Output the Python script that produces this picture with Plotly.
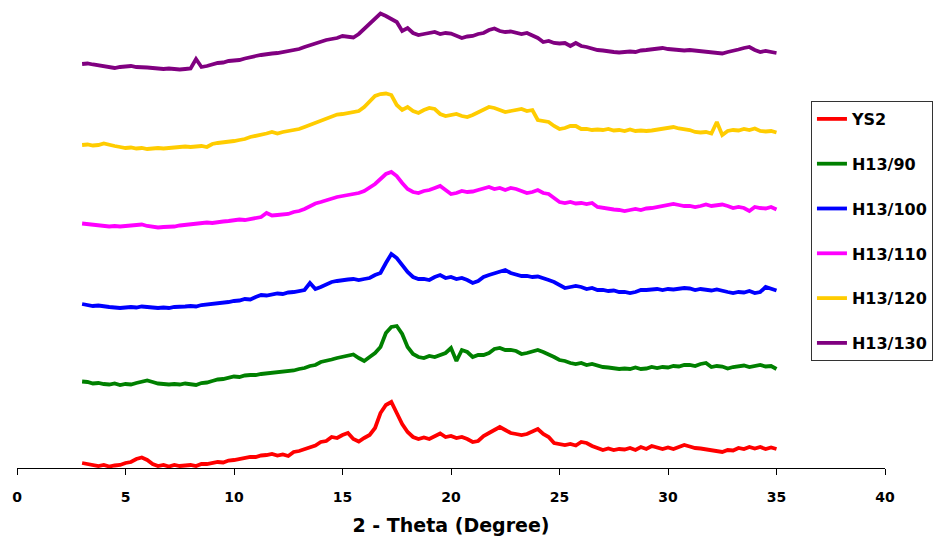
import numpy as np
import plotly.graph_objects as go

# 2-theta scan: 3 to 35 degrees, 0.25 degree step
two_theta = np.round(np.arange(3.0, 35.0001, 0.25), 2)

# Stacking offsets for the patterns (arbitrary intensity units)
offsets = [0, 80, 155, 235, 315, 395]

names = ["YS2", "H13/90", "H13/100", "H13/110", "H13/120", "H13/130"]
colors = ["#FF0000", "#008000", "#0000FF", "#FF00FF", "#FFCC00", "#800080"]

# Intensities (a.u.), one row per 2 degrees
ys2 = [
    5, 4, 3, 2, 3, 1.5, 2.5, 3,
    5, 6, 9, 10.5, 8, 4, 2, 3,
    1.5, 3, 2, 2.5, 3, 2, 4, 4,
    5, 6, 5.5, 7.5, 8, 9, 9.5, 11,
    11, 12.5, 13, 14, 12.5, 13.5, 12, 16,
    17, 19, 21, 22.5, 26, 27, 31, 30,
    33, 35, 29, 26.5, 30, 33, 40, 55,
    63, 66, 55, 44, 36, 31, 29, 30.5,
    29, 32, 34.5, 31, 32, 30, 31, 29,
    26, 27, 32, 35, 38, 41, 38, 35,
    34, 33, 34, 37, 39, 34, 31, 25,
    24, 23, 24, 22.5, 26, 25, 22, 20,
    18, 19.5, 18, 19, 18.5, 20, 18, 21,
    19, 22, 20, 19, 20.5, 19, 21, 23,
    21.5, 20, 19.5, 18.5, 17.5, 17, 16, 18,
    17.5, 20, 19, 21, 19.5, 21, 19, 20.5,
    19,
]

h13_90 = [
    6.5, 6, 4.5, 5, 4, 3.5, 4.5, 3,
    4, 3.5, 5, 6, 7.5, 6, 4.5, 4,
    3.5, 4, 3.5, 4.5, 4, 3, 5, 5.5,
    7, 8.5, 9, 10, 11.5, 11, 12.5, 13,
    13, 14, 14.5, 15.5, 15.5, 16.5, 17, 17.5,
    19, 20, 22, 23, 26, 27, 28.5, 30,
    31, 32, 33.5, 30, 27, 31, 35, 41,
    55, 61, 62, 54, 41, 34, 31, 30,
    32, 31, 33, 35, 40, 27, 38, 36,
    31, 33, 33, 35, 39, 40, 38, 38,
    37, 34, 35, 37, 38, 36, 34, 31,
    28, 27, 25, 24, 25, 23, 24, 22,
    21, 20.5, 20, 19, 19.5, 19, 20.5, 19,
    19.5, 21, 20, 21, 20.5, 22, 21.5, 23,
    23, 22, 24, 25, 21, 22, 21.5, 19.5,
    21, 21.5, 22.5, 21, 22, 23, 21.5, 22,
    19,
]

h13_100 = [
    9, 8, 7, 7.5, 6.5, 6, 5.5, 5,
    5.5, 6, 5.5, 6.5, 6, 5.5, 5, 5.5,
    5, 6, 6, 6.5, 7, 6.5, 8, 8.5,
    9, 9.5, 10.5, 11, 12, 12.5, 14, 13.5,
    16, 18, 17.5, 18.5, 19.5, 19, 20.5, 21,
    22, 23, 30, 24, 26, 29, 31, 32,
    33, 33.5, 34, 33, 34, 35, 38, 40,
    50, 59, 55, 48, 41, 36, 34, 34,
    33, 36, 38, 35, 36, 34, 35, 33,
    30, 32, 36, 38, 40, 42, 43, 40,
    38, 37, 37, 36, 36.5, 35, 33, 31,
    28, 25, 26, 27, 26, 24, 25, 23,
    23, 22, 22.5, 21, 21, 20, 21, 23,
    23, 23.5, 24, 23, 24, 23.5, 24, 25,
    24.5, 23, 24, 23, 22.5, 23.5, 22, 21,
    20, 21, 20.5, 22, 20, 21, 26, 24,
    22.5,
]

h13_110 = [
    9.5, 9, 8, 7.5, 7, 6.5, 7, 6.5,
    7, 7.5, 8, 8.5, 7, 6, 5.5, 6,
    6, 6.5, 7.5, 8, 8.5, 9, 9.5, 10.5,
    10, 11, 11.5, 12, 12.5, 13.5, 13, 14,
    14.5, 16, 20, 17.5, 18, 18.5, 19, 21,
    22, 24, 27, 29.5, 31, 33, 34, 36,
    37, 38, 39, 40, 42, 45, 49, 54,
    59, 61, 57, 50, 44, 41, 40, 42,
    43, 45, 47, 43, 39, 40, 42, 41,
    41.5, 43, 45, 46, 44, 45, 43, 45,
    44, 42, 40, 41, 43, 40, 39, 35,
    31, 30, 31, 29.5, 30, 29, 30, 26,
    25, 24, 23.5, 23, 22, 23, 24, 23,
    24.5, 25, 26, 27.5, 28.5, 29, 28, 27,
    27, 26, 27, 28.5, 27, 28, 28.5, 27,
    25, 26, 25, 22, 26, 25, 24.5, 26,
    23.5,
]

h13_120 = [
    8, 8.5, 7.5, 8, 9.5, 8, 7, 6,
    5, 5.5, 4.5, 5, 4, 4.5, 5, 4.5,
    5, 5.5, 6, 6.5, 6, 6.5, 7, 6,
    9, 10, 10.5, 11.5, 12, 13, 14, 16,
    17, 18, 19.5, 21, 19.5, 21, 22, 23,
    24, 26, 28, 31, 33, 35, 37, 38.5,
    39, 40, 40.5, 42, 46, 52, 57, 59,
    59.5, 58, 48, 43, 46, 42, 40, 43,
    45, 44, 39, 37, 38, 39, 37, 36,
    38, 41, 44, 46, 45, 43, 41, 42,
    43, 44, 42, 43, 33, 32, 31, 27,
    24, 25, 27, 27, 24, 24, 23, 23.5,
    23, 24, 22.5, 23, 22, 23.5, 22, 22.5,
    22, 22.5, 23.5, 24, 25, 26, 24.5, 24,
    23, 21, 20.5, 21, 19.5, 31, 18, 22,
    23, 22.5, 24, 23, 24.5, 22, 21.5, 22,
    20.5,
]

h13_130 = [
    9, 9.5, 8.5, 7.5, 6.5, 5.5, 5, 6,
    6.5, 7, 6, 6, 5.5, 5, 4.5, 4,
    4.5, 4, 3.5, 4, 4.5, 14, 6, 7,
    9, 10, 10.5, 12, 12.5, 13, 14.5, 16,
    17, 18, 19, 19.5, 20, 21, 22, 23,
    24, 26, 28, 30, 31.5, 33, 34, 35,
    37, 36, 35.5, 39, 44, 50, 54, 59.5,
    57, 54, 51, 42, 45, 40, 38, 39,
    40, 41, 39, 40, 39.5, 37, 35, 36.5,
    37, 39, 40, 43, 44.5, 42, 41, 41.5,
    40, 39, 40, 38, 35, 31, 32, 30,
    29.5, 30, 27, 30, 27, 26, 24, 23,
    22.5, 21.5, 21, 20.5, 21, 21.5, 21, 22.5,
    23, 23.5, 24.5, 25, 24, 23.5, 23, 22.5,
    23, 22.5, 22, 21, 20.5, 20, 19.5, 21,
    22, 23.5, 25, 26, 23, 21, 22, 21,
    20,
]

patterns = [ys2, h13_90, h13_100, h13_110, h13_120, h13_130]

fig = go.Figure()
for i, (name, color, vals, off) in enumerate(zip(names, colors, patterns, offsets)):
    fig.add_trace(go.Scatter(
        x=two_theta,
        y=np.asarray(vals, dtype=float) + off,
        mode="lines",
        name=name,
        legendgroup=f"g{i}",
        line=dict(color=color, width=3.8),
    ))

bold = dict(family="DejaVu Sans", color="black", weight="bold")

fig.update_layout(
    width=935,
    height=546,
    margin=dict(l=17, r=50, t=0, b=78),
    paper_bgcolor="white",
    plot_bgcolor="white",
    showlegend=True,
    legend=dict(
        x=0.9147, y=0.7842, xanchor="left", yanchor="top",
        bgcolor="white", bordercolor="#333333", borderwidth=1,
        font=dict(size=16, **bold),
        tracegroupgap=21,
        itemwidth=30,
    ),
    xaxis=dict(
        range=[0, 40],
        tickmode="linear", tick0=0, dtick=5,
        ticks="outside", ticklen=6, tickcolor="black",
        showline=True, linecolor="black", linewidth=1,
        showgrid=False, zeroline=False,
        tickfont=dict(size=14, **bold),
        ticklabelstandoff=10,
        title=dict(text="2 - Theta (Degree)", font=dict(size=19, **bold), standoff=14),
    ),
    yaxis=dict(
        range=[0, 468],
        visible=False,
        showgrid=False,
        zeroline=False,
    ),
)

fig.write_html("out.html")
